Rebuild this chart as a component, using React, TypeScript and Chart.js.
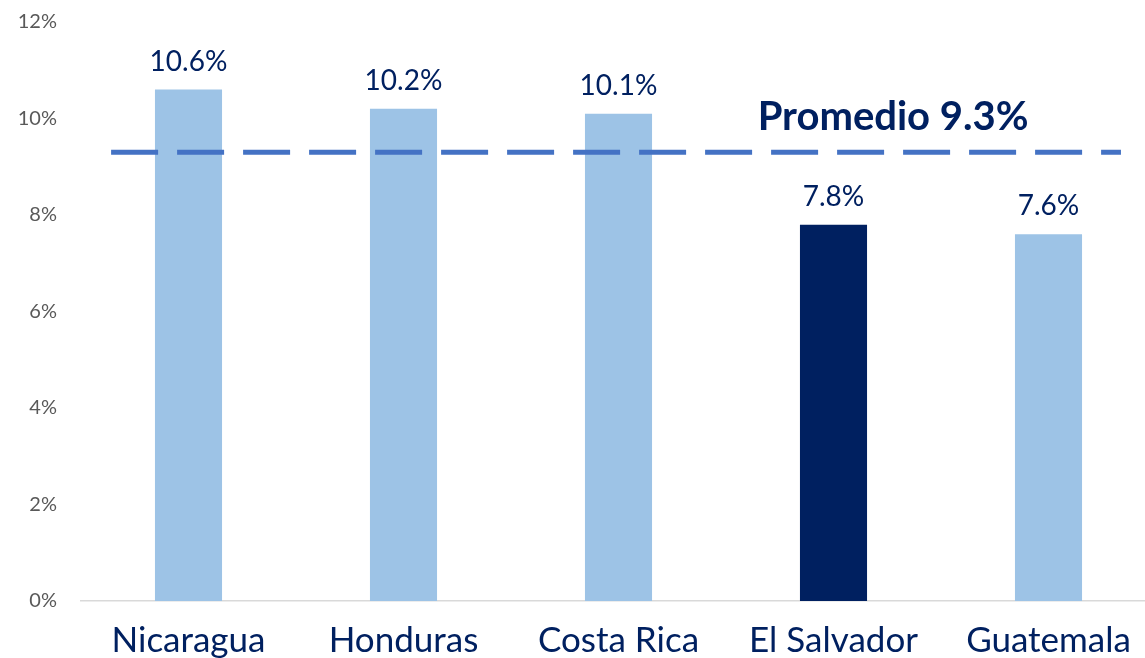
import React, { useEffect, useRef } from "react";
import { Chart, registerables } from "chart.js";

Chart.register(...registerables);

// ---- data ----
const categories = ["Nicaragua", "Honduras", "Costa Rica", "El Salvador", "Guatemala"];
const values = [10.6, 10.2, 10.1, 7.8, 7.6];
const highlighted = ["El Salvador"];
const averageValue = 9.3;
const averageLabel = "Promedio 9.3%";
const yTickValues = [0, 2, 4, 6, 8, 10, 12];

// ---- styles ----
const NAVY = "#002060";
const LIGHT = "#9DC3E6";
const DASH = "#4472C4";
const GRAY = "#595959";
const FONT = "Lato, 'Open Sans', sans-serif";
// average line extent / label position, in category-index units
const AVG_FROM = -0.36;
const AVG_TO = 4.337;
const AVG_LABEL_AT = 3.277;

export default function App() {
  const ref = useRef<HTMLCanvasElement | null>(null);

  useEffect(() => {
    if (!ref.current) return;

    const overlay = {
      id: "overlay",
      afterDatasetsDraw(chart: any) {
        const ctx = chart.ctx;
        const xs = chart.scales.x;
        const ys = chart.scales.y;
        const x0 = xs.getPixelForValue(0);
        const step = xs.getPixelForValue(1) - x0;
        const yAvg = ys.getPixelForValue(averageValue);

        ctx.save();
        // average dashed line
        ctx.strokeStyle = DASH;
        ctx.lineWidth = 5;
        ctx.lineCap = "butt";
        ctx.setLineDash([47, 19]);
        ctx.beginPath();
        ctx.moveTo(x0 + AVG_FROM * step, yAvg);
        ctx.lineTo(x0 + AVG_TO * step, yAvg);
        ctx.stroke();
        ctx.setLineDash([]);

        // value labels
        const meta = chart.getDatasetMeta(0);
        ctx.fillStyle = NAVY;
        ctx.textAlign = "center";
        ctx.textBaseline = "alphabetic";
        ctx.font = `400 28px ${FONT}`;
        meta.data.forEach((bar: any, i: number) => {
          ctx.fillText(values[i].toFixed(1) + "%", bar.x, bar.y - 19);
        });

        // average label
        ctx.font = `700 40px ${FONT}`;
        ctx.fillText(averageLabel, x0 + AVG_LABEL_AT * step, yAvg - 22);
        ctx.restore();
      },
    };

    const chart = new Chart(ref.current, {
      type: "bar",
      data: {
        labels: categories,
        datasets: [
          {
            data: values,
            backgroundColor: categories.map((c) => (highlighted.includes(c) ? NAVY : LIGHT)),
            barPercentage: 1,
            categoryPercentage: 0.312,
            grouped: false,
          },
        ],
      },
      options: {
        responsive: false,
        animation: false,
        devicePixelRatio: 1,
        layout: { padding: { top: 22, right: 4, bottom: 0, left: 0 } },
        plugins: { legend: { display: false }, tooltip: { enabled: false } },
        scales: {
          x: {
            type: "category",
            grid: { display: false, drawTicks: false },
            border: { display: true, color: "#D9D9D9", width: 1.5 },
            ticks: { color: NAVY, font: { family: FONT, size: 35 }, padding: 19, maxRotation: 0, autoSkip: false },
            afterFit: (s: any) => {
              s.height = 60;
            },
          },
          y: {
            min: 0,
            max: 12,
            grid: { display: false, drawTicks: false },
            border: { display: false },
            afterBuildTicks: (s: any) => {
              s.ticks = yTickValues.map((v) => ({ value: v }));
            },
            ticks: {
              color: GRAY,
              font: { family: FONT, size: 20 },
              padding: 24,
              callback: (v: any) => v + "%",
            },
            afterFit: (s: any) => {
              s.width = 81;
              s.paddingTop = 0;
              s.paddingBottom = 0;
            },
          },
        },
      } as any,
      plugins: [overlay],
    });
    return () => chart.destroy();
  }, []);

  return (
    <div style={{ position: "absolute", left: 0, top: 0, width: 1145, height: 658, overflow: "hidden", background: "#fff" }}>
      <canvas ref={ref} width={1160} height={661} style={{ width: 1160, height: 661, display: "block" }} />
    </div>
  );
}
